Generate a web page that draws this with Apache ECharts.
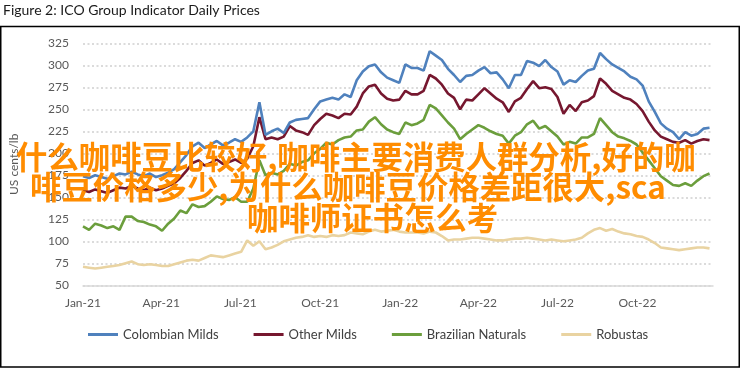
<!DOCTYPE html>
<html><head><meta charset="utf-8">
<script src="https://cdn.jsdelivr.net/npm/echarts@6/dist/echarts.min.js"></script>
<style>html,body{margin:0;padding:0;background:#fff}#c{width:742px;height:369px}</style>
</head><body><div id="c"></div>
<script>
const weekDates = [
'2021-01-01','2021-01-08','2021-01-15','2021-01-22','2021-01-29','2021-02-05','2021-02-12','2021-02-19','2021-02-26','2021-03-05',
'2021-03-12','2021-03-19','2021-03-26','2021-04-02','2021-04-09','2021-04-16','2021-04-23','2021-04-30','2021-05-07','2021-05-14',
'2021-05-21','2021-05-28','2021-06-04','2021-06-11','2021-06-18','2021-06-25','2021-07-02','2021-07-09','2021-07-16','2021-07-23',
'2021-07-30','2021-08-06','2021-08-13','2021-08-20','2021-08-27','2021-09-03','2021-09-10','2021-09-17','2021-09-24','2021-10-01',
'2021-10-08','2021-10-15','2021-10-22','2021-10-29','2021-11-05','2021-11-12','2021-11-19','2021-11-26','2021-12-03','2021-12-10',
'2021-12-17','2021-12-24','2021-12-31',
'2022-01-07','2022-01-14','2022-01-21','2022-01-28','2022-02-04','2022-02-11','2022-02-18',
'2022-02-25','2022-03-04','2022-03-11','2022-03-18','2022-03-25','2022-04-01','2022-04-08','2022-04-15','2022-04-22','2022-04-29',
'2022-05-06','2022-05-13','2022-05-20','2022-05-27','2022-06-03','2022-06-10','2022-06-17','2022-06-24','2022-07-01','2022-07-08',
'2022-07-15','2022-07-22','2022-07-29','2022-08-05','2022-08-12','2022-08-19','2022-08-26','2022-09-02','2022-09-09','2022-09-16',
'2022-09-23','2022-09-30','2022-10-07','2022-10-14','2022-10-21','2022-10-28','2022-11-04','2022-11-11','2022-11-18','2022-11-25',
'2022-12-02','2022-12-09','2022-12-16','2022-12-23'
];
const colombianMilds = [
174,172,175,173,171,174,177,176,179,176,
174,177,173,175,178,182,190,198,208,212,
206,210,214,209,212,216,213,218,225,258,
221,225,228,223,235,238,239,240,250,259,
261,263,261,267,264,283,293,299,301,292,
286,283,280,
301,297,297,294,316,311,306,
296,289,281,288,289,294,298,291,292,284,
274,289,289,305,303,299,306,298,293,278,
283,281,288,294,296,314,307,301,297,293,
287,284,277,259,247,234,228,224,216,224,
220,222,228,229
];
const otherMilds = [
158,156,159,157,155,158,161,160,163,160,
158,161,158,160,163,166,172,180,189,192,
186,189,193,188,190,193,189,194,208,241,
216,218,216,219,231,226,224,221,232,239,
245,243,240,245,244,253,268,276,278,268,
262,260,261,
271,267,267,271,289,285,278,
268,263,250,261,260,267,274,268,262,258,
247,259,263,273,282,274,275,273,264,245,
255,248,258,260,265,285,279,271,267,263,
261,256,248,236,226,219,216,213,212,215,
211,214,216,215
];
const brazilianNaturals = [
117,113,120,118,115,117,113,128,128,123,
122,119,117,112,120,126,135,132,142,139,
140,145,151,148,147,150,145,145,160,192,
175,178,176,180,188,186,190,192,200,205,
212,210,215,218,219,226,227,236,241,233,
227,224,222,
235,232,234,238,255,251,243,
235,228,216,222,227,232,229,225,222,220,
211,220,224,233,237,228,231,225,219,210,
213,211,218,218,222,240,232,224,219,217,
214,210,201,192,183,174,169,164,163,166,
163,169,174,177
];
const robustas = [
71,70,69,70,71,72,73,75,77,74,
73,74,73,72,72,74,76,78,79,78,
81,84,83,82,84,86,88,101,95,100,
91,93,96,100,102,104,105,107,105,106,
105,107,106,107,110,109,108,111,113,111,
112,113,111,
110,110,110,109,111,110,106,
101,102,102,103,104,104,103,102,101,101,
102,103,103,104,103,102,101,102,101,100,
101,102,104,109,113,115,112,114,111,109,
108,106,105,102,98,93,92,91,90,91,
92,93,93,92
];
const seriesNames = ['Colombian Milds','Other Milds','Brazilian Naturals','Robustas'];
const seriesColors = ['#4F81BD','#76172F','#6B9E3C','#E9D3A1'];
const tickDates = ['2021-01-01','2021-04-01','2021-07-01','2021-10-01','2022-01-01','2022-04-01','2022-07-01','2022-10-01'];
const tickLabels = ['Jan-21','Apr-21','Jul-21','Oct-21','Jan-22','Apr-22','Jul-22','Oct-22'];
const axisStart = '2021-01-01', axisEnd = '2022-12-27';
const titleText = 'Figure 2: ICO Group Indicator Daily Prices';
const yName = 'US cents/lb';
const watermarkLines = ['什么咖啡豆比较好,咖啡主要消费人群分析,好的咖','啡豆价格多少,为什么咖啡豆价格差距很大,sca','咖啡师证书怎么考'];

function toTs(s){const p=s.split('-').map(Number);return Date.UTC(p[0],p[1]-1,p[2]);}
const tickTs = tickDates.map(toTs);
const allValues = [colombianMilds, otherMilds, brazilianNaturals, robustas];

const chart = echarts.init(document.getElementById('c'), null, {renderer:'canvas'});
const wmPos = [[16,157],[30,187],[247,218]];
chart.setOption({
  animation:false,
  textStyle:{fontFamily:'Lato'},
  title:{text:titleText,left:3,top:3,padding:0,textStyle:{fontSize:14,fontWeight:'normal',color:'#1a1a1a',fontFamily:'Lato'}},
  grid:{left:81.5,right:29,top:43.3,bottom:83.7,containLabel:false},
  xAxis:{type:'value',min:toTs(axisStart),max:toTs(axisEnd),scale:true,
    axisLine:{show:true,onZero:false,lineStyle:{color:'#d9d9d9',width:1.5}},
    axisTick:{show:false},splitLine:{show:false},
    axisLabel:{customValues:tickTs,color:'#595959',fontSize:12,margin:12,hideOverlap:false,
      formatter:function(v){for(let i=0;i<tickTs.length;i++){if(Math.abs(tickTs[i]-v)<43200000)return tickLabels[i];}return '';}}
  },
  yAxis:{type:'value',min:50,max:325,interval:25,
    axisLine:{show:false},axisTick:{show:false},
    splitLine:{lineStyle:{color:'#cfcfcf',type:[2,2.5],width:1.5}},
    axisLabel:{color:'#595959',fontSize:12,margin:14},
    name:yName,nameLocation:'middle',nameGap:63,nameTextStyle:{fontSize:12,color:'#595959'}
  },
  legend:{top:328,left:88,padding:0,icon:'rect',itemWidth:30,itemHeight:3,itemGap:35,
    textStyle:{fontSize:13,color:'#404040',fontFamily:'Lato'},data:seriesNames},
  series: seriesNames.map((n,i)=>({
    name:n,type:'line',showSymbol:false,symbol:'none',
    lineStyle:{width:2.6,color:seriesColors[i]},itemStyle:{color:seriesColors[i]},
    z: 2+(3-i),
    data: weekDates.map((d,j)=>[toTs(d), allValues[i][j]])
  })),
  graphic:[
    {type:'rect',shape:{x:0.75,y:26.5,width:738.5,height:340.5},style:{fill:'none',stroke:'#000',lineWidth:1.5},z:50,silent:true},
  ].concat(watermarkLines.map((t,i)=>({type:'text',x:wmPos[i][0],y:wmPos[i][1],z:100,silent:true,
    style:{text:t,font:'bold 31.4px "Noto Sans CJK SC"',fill:'#FF8C00',align:'left',verticalAlign:'middle'}})))
});
</script></body></html>
